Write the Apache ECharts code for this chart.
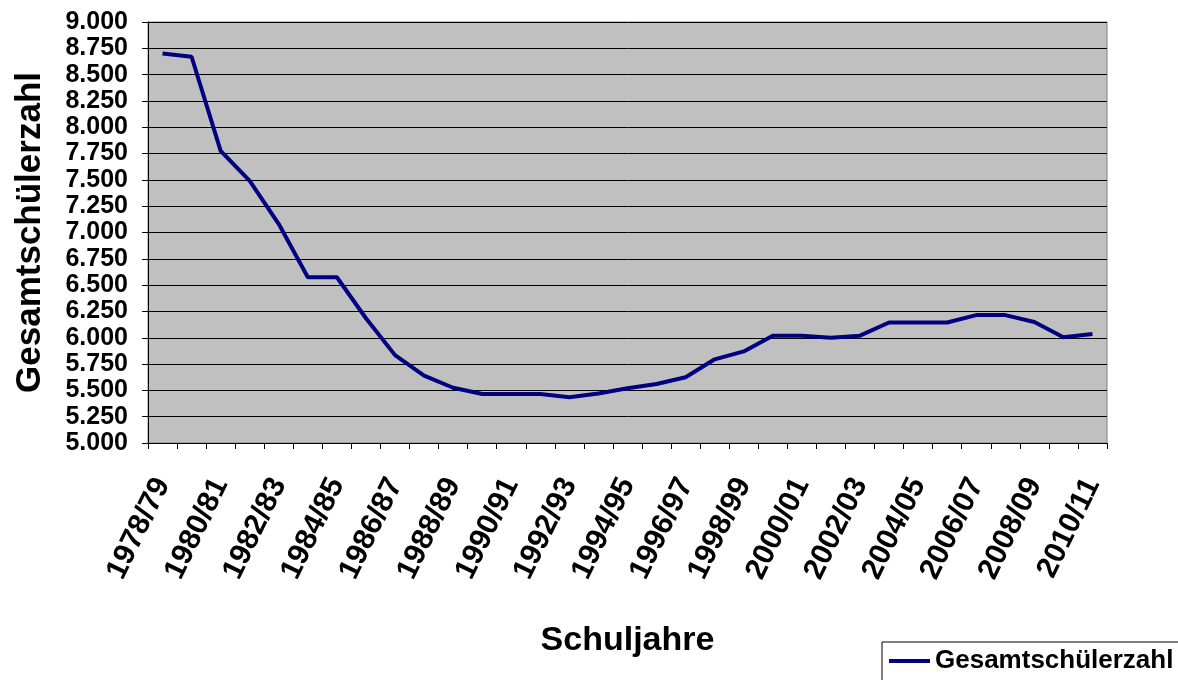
<!DOCTYPE html>
<html>
<head>
<meta charset="utf-8">
<title>Gesamtschülerzahl</title>
<script src="https://cdn.jsdelivr.net/npm/echarts@6/dist/echarts.min.js"></script>
<style>
  html, body { margin: 0; padding: 0; background: #fff; }
  #chart { width: 1178px; height: 680px; }
</style>
</head>
<body>
<div id="chart"></div>
<script>
// Schuljahre (Kategorien)
const schuljahre = [
  '1978/79', '1979/80', '1980/81', '1981/82', '1982/83', '1983/84', '1984/85',
  '1985/86', '1986/87', '1987/88', '1988/89', '1989/90', '1990/91', '1991/92',
  '1992/93', '1993/94', '1994/95', '1995/96', '1996/97', '1997/98', '1998/99',
  '1999/00', '2000/01', '2001/02', '2002/03', '2003/04', '2004/05', '2005/06',
  '2006/07', '2007/08', '2008/09', '2009/10', '2010/11'
]

// Gesamtschülerzahl je Schuljahr
const gesamtschueler = [
  8700, 8670, 7775, 7490, 7080, 6575, 6575,
  6185, 5835, 5640, 5525, 5465, 5465, 5465,
  5435, 5470, 5520, 5560, 5625, 5795, 5870,
  6020, 6020, 6000, 6020, 6145, 6145, 6145,
  6215, 6215, 6150, 6005, 6035
]

const yMin = 5000
const yMax = 9000
const yStep = 250

const fontFam = '"Liberation Sans", Arial, sans-serif'

// 9000 -> "9.000"
const fmtTausend = v => Math.floor(v / 1000) + '.' + String(v % 1000).padStart(3, '0')

const chart = echarts.init(document.getElementById('chart'))

chart.setOption({
  animation: false,
  backgroundColor: '#fff',
  textStyle: {fontFamily: fontFam},
  grid: {left: 148, right: 71, top: 22, bottom: 237, show: true, backgroundColor: '#c0c0c0', borderColor: '#808080', borderWidth: 1},
  legend: {
    left: 882,
    top: 642,
    padding: [6, 16, 20, 7],
    borderColor: '#000',
    borderWidth: 1,
    backgroundColor: '#fff',
    icon: 'rect',
    itemWidth: 41,
    itemHeight: 4,
    itemGap: 5,
    textStyle: {fontSize: 26, fontWeight: 'bold', color: '#000', fontFamily: fontFam},
    data: ['Gesamtschülerzahl']
  },
  xAxis: {
    type: 'category',
    data: schuljahre,
    boundaryGap: true,
    name: 'Schuljahre',
    nameLocation: 'middle',
    nameGap: 181,
    nameTextStyle: {fontSize: 34, fontWeight: 'bold', color: '#000', fontFamily: fontFam},
    axisLine: {lineStyle: {color: '#000', width: 1}},
    axisTick: {show: true, inside: false, length: 6, interval: 0, lineStyle: {color: '#000'}},
    axisLabel: {interval: 1, rotate: 64, margin: 37, fontSize: 30, fontWeight: 'bold', color: '#000', fontFamily: fontFam},
    splitLine: {show: false}
  },
  yAxis: {
    type: 'value',
    min: yMin,
    max: yMax,
    interval: yStep,
    name: 'Gesamtschülerzahl',
    nameLocation: 'middle',
    nameGap: 100,
    nameRotate: 90,
    nameTextStyle: {fontSize: 35, fontWeight: 'bold', color: '#000', fontFamily: fontFam},
    axisLine: {show: true, lineStyle: {color: '#000', width: 1}},
    axisTick: {show: true, inside: false, length: 6, lineStyle: {color: '#000'}},
    axisLabel: {margin: 20, fontSize: 25, fontWeight: 'bold', color: '#000', fontFamily: fontFam, formatter: fmtTausend},
    splitLine: {show: true, lineStyle: {color: '#000', width: 1}}
  },
  series: [{
    name: 'Gesamtschülerzahl',
    type: 'line',
    data: gesamtschueler,
    symbol: 'none',
    itemStyle: {color: '#000080'},
    lineStyle: {color: '#000080', width: 4}
  }]
})
</script>
</body>
</html>
